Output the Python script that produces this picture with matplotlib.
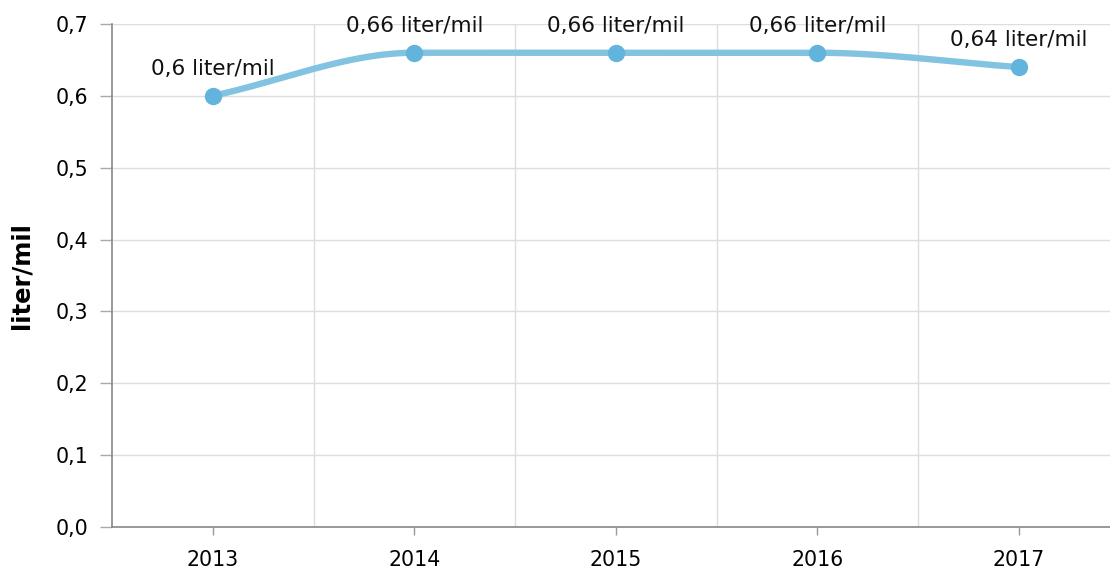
import numpy as np
import matplotlib
matplotlib.use("Agg")
import matplotlib.pyplot as plt

years = ["2013", "2014", "2015", "2016", "2017"]
values = [0.60, 0.66, 0.66, 0.66, 0.64]
labels = ["0,6 liter/mil", "0,66 liter/mil", "0,66 liter/mil", "0,66 liter/mil", "0,64 liter/mil"]
yticks = [0.0, 0.1, 0.2, 0.3, 0.4, 0.5, 0.6, 0.7]
ytick_labels = ["0,0", "0,1", "0,2", "0,3", "0,4", "0,5", "0,6", "0,7"]

plt.rcParams['font.family'] = ['DejaVu Sans']

def pchip(x, y, xs):
    x = np.asarray(x, float); y = np.asarray(y, float)
    h = np.diff(x); d = np.diff(y) / h
    n = len(x); m = np.zeros(n)
    for i in range(1, n - 1):
        if d[i-1] * d[i] <= 0:
            m[i] = 0
        else:
            w1 = 2*h[i] + h[i-1]; w2 = h[i] + 2*h[i-1]
            m[i] = (w1 + w2) / (w1/d[i-1] + w2/d[i])
    m[0] = d[0]; m[-1] = d[-1]
    out = np.empty_like(xs)
    for j, t in enumerate(xs):
        k = min(max(np.searchsorted(x, t) - 1, 0), n - 2)
        hk = h[k]; s = (t - x[k]) / hk
        h00 = 2*s**3 - 3*s**2 + 1; h10 = s**3 - 2*s**2 + s
        h01 = -2*s**3 + 3*s**2; h11 = s**3 - s**2
        out[j] = h00*y[k] + h10*hk*m[k] + h01*y[k+1] + h11*hk*m[k+1]
    return out

fig = plt.figure(figsize=(11.1, 5.73), dpi=100)
ax = fig.add_axes([112/1110, (573-527)/573, 998/1110, 503/573])

x = np.arange(len(years))
xs = np.linspace(0, len(years) - 1, 400)
ys = pchip(x, values, xs)
ax.plot(xs, ys, color="#82c3e2", lw=4.6, solid_capstyle="round", zorder=3)
ax.plot(x, values, "o", color="#62b4dc", ms=12.5, mew=0, zorder=4)

for xi, v, lab in zip(x, values, labels):
    ax.annotate(lab, (xi, v), xytext=(0, 12), textcoords="offset points",
                ha="center", va="bottom", fontsize=15.5, color="#111111")

ax.set_yticks(yticks)
ax.set_yticklabels(ytick_labels, fontsize=14.8)
ax.set_xticks(x)
ax.set_xticklabels(years, fontsize=14.8)
ax.set_xticks(np.arange(len(years) - 1) + 0.5, minor=True)
ax.set_xlim(-0.5, -0.5 + 998/201.5)
ax.set_ylim(0, 0.7)
ax.grid(axis="y", which="major", color="#dddddd", lw=1)
ax.grid(axis="x", which="minor", color="#dddddd", lw=1)
ax.tick_params(axis="x", which="minor", length=0)
ax.tick_params(axis="y", length=8.6, color="#aaaaaa", width=1, pad=8.6)
ax.tick_params(axis="x", which="major", length=5.8, color="#999999", width=1, pad=11)
ax.set_axisbelow(True)
for s in ["top", "right"]:
    ax.spines[s].set_visible(False)
for s in ["left", "bottom"]:
    ax.spines[s].set_color("#888888")
    ax.spines[s].set_linewidth(1.2)
ax.set_ylabel("liter/mil", fontsize=17.5, fontweight="bold", labelpad=16)

fig.savefig("out.png", dpi=100)
